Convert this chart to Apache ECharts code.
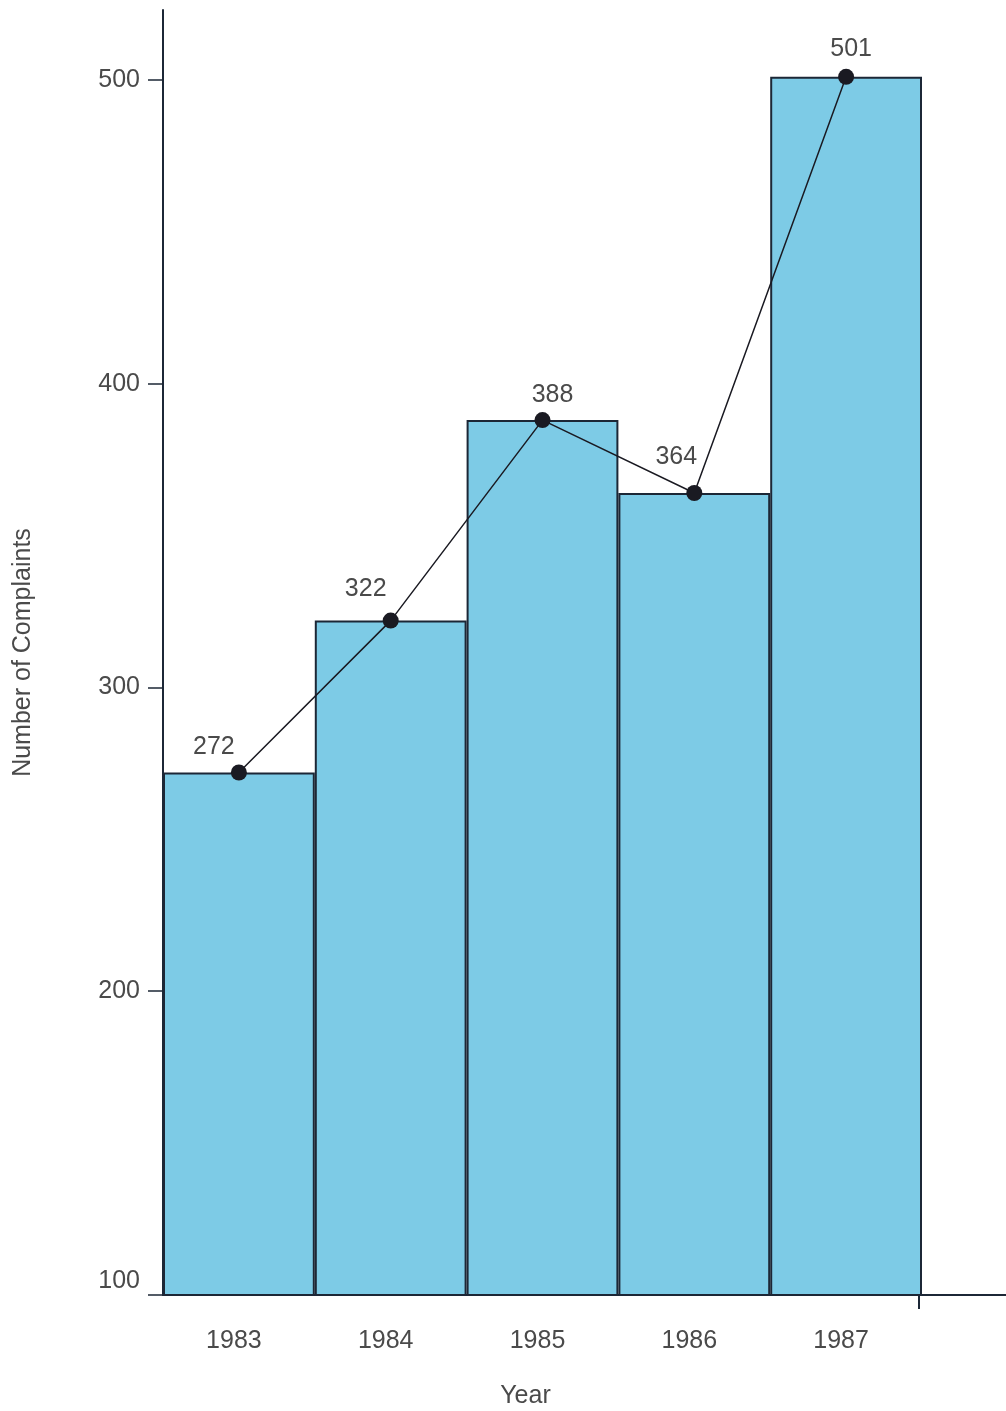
<!DOCTYPE html>
<html>
<head>
<meta charset="utf-8">
<script src="https://cdn.jsdelivr.net/npm/echarts@6/dist/echarts.min.js"></script>
<style>
  html, body { margin: 0; padding: 0; background: #ffffff; }
  #chart { width: 1006px; height: 1411px; }
</style>
</head>
<body>
<div id="chart"></div>
<script>
// Complaints received per year
const years = ['1983', '1984', '1985', '1986', '1987'];
const complaints = [272, 322, 388, 364, 501];
const yTicks = [100, 200, 300, 400, 500];

// label placement around each point marker (dx, dy)
const labelShift = [[-25, 5], [-25, -1], [10, 6], [-18, -5], [5, 3]];

const ink = '#1c2736';
const textColor = '#4a4a4a';
const font = 'Liberation Sans, Arial, sans-serif';
const fs = 25;

const chart = echarts.init(document.getElementById('chart'));

chart.setOption({
  backgroundColor: '#ffffff',
  animation: false,
  grid: { left: 163, right: 84, top: 10, bottom: 116, containLabel: false, outerBoundsMode: 'none' },
  xAxis: {
    type: 'category',
    data: years,
    boundaryGap: true,
    name: 'Year',
    nameLocation: 'middle',
    nameGap: 89,
    nameTextStyle: { fontFamily: font, fontSize: fs, color: textColor, padding: [0, 34, 0, 0] },
    axisLine: { lineStyle: { color: ink, width: 2 } },
    axisTick: { show: false },
    axisLabel: { fontFamily: font, fontSize: fs, color: textColor, margin: 34, padding: [0, 10, 0, 0] }
  },
  yAxis: {
    type: 'value',
    min: yTicks[0],
    max: 523,
    interval: 100,
    name: 'Number of Complaints',
    nameLocation: 'middle',
    nameGap: 127,
    nameTextStyle: { fontFamily: font, fontSize: fs, color: textColor },
    splitLine: { show: false },
    axisLine: { show: true, lineStyle: { color: ink, width: 2 } },
    axisTick: { show: true, length: 15, lineStyle: { color: ink, width: 1.5 } },
    axisLabel: {
      fontFamily: font, fontSize: fs, color: textColor, margin: 23,
      showMaxLabel: false,
      formatter: function (v) {
        if (yTicks.indexOf(v) < 0) return '';
        return v === yTicks[0] ? '{low|' + v + '}' : String(v);
      },
      rich: { low: { fontFamily: font, fontSize: fs, color: textColor, padding: [0, 0, 28, 0] } }
    }
  },
  series: [
    {
      type: 'bar',
      data: complaints,
      barCategoryGap: '0%',
      itemStyle: { color: '#7dcbe6', borderColor: ink, borderWidth: 2 },
      z: 2
    },
    {
      type: 'line',
      data: complaints.map((v, i) => ({
        value: v,
        label: { offset: labelShift[i] }
      })),
      symbol: 'circle',
      symbolSize: 16,
      lineStyle: { color: '#1a1a22', width: 1.5 },
      itemStyle: { color: '#1a1a22' },
      label: {
        show: true, position: 'top', distance: 10,
        fontFamily: font, fontSize: fs, color: textColor
      },
      z: 3
    }
  ]
});

// Extend the baseline past the plot and mark the closing tick at its end
function drawBaseline() {
  const start = chart.convertToPixel({ gridIndex: 0 }, [0, yTicks[0]]);
  const endX = 1006 - 84;
  chart.setOption({
    graphic: [
      { type: 'line', shape: { x1: endX, y1: start[1], x2: 1006, y2: start[1] },
        style: { stroke: ink, lineWidth: 2 }, z: 10 },
      { type: 'line', shape: { x1: endX - 3, y1: start[1], x2: endX - 3, y2: start[1] + 14 },
        style: { stroke: ink, lineWidth: 2 }, z: 10 }
    ]
  });
}
drawBaseline();
</script>
</body>
</html>
